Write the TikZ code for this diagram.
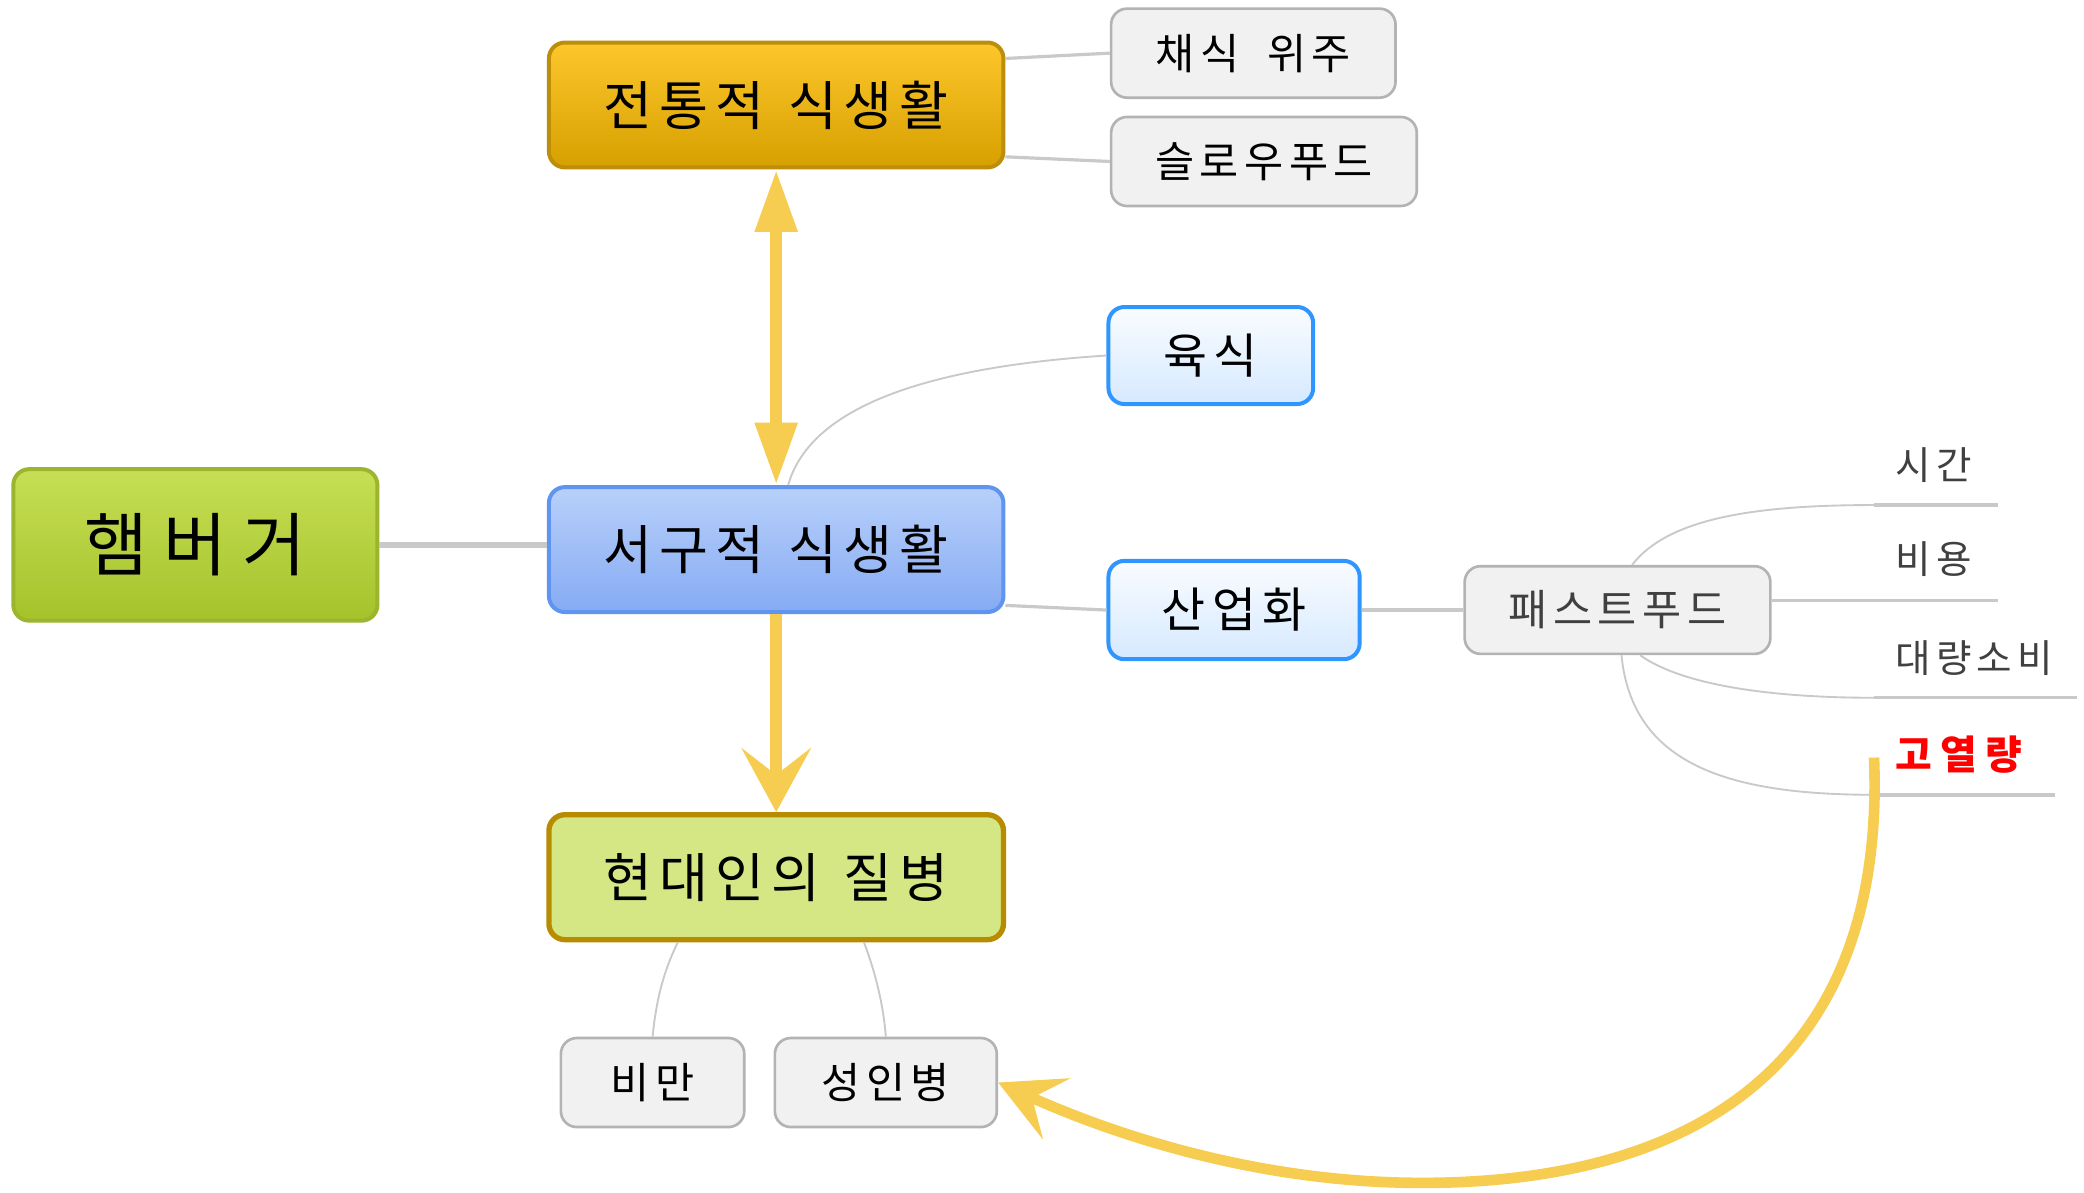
\documentclass[tikz,border=0pt]{standalone}
\usepackage{fontspec}
\setmainfont{Noto Sans CJK KR}[LetterSpace=13]
\newfontfamily\hamfont{Noto Sans CJK KR}[LetterSpace=22]
\usetikzlibrary{arrows.meta,shadings}
\definecolor{hbTop}{HTML}{C6DF55}
\definecolor{hbBot}{HTML}{A5C22A}
\definecolor{hbDraw}{HTML}{9CB52E}
\definecolor{trTop}{HTML}{FDC72C}
\definecolor{trBot}{HTML}{D7A000}
\definecolor{trDraw}{HTML}{BC8E0A}
\definecolor{wsTop}{HTML}{B8D0FA}
\definecolor{wsBot}{HTML}{86ABF4}
\definecolor{wsDraw}{HTML}{5F94EF}
\definecolor{dsFill}{HTML}{D5E684}
\definecolor{dsDraw}{HTML}{B88C00}
\definecolor{gFill}{HTML}{F1F1F1}
\definecolor{gDraw}{HTML}{B3B3B3}
\definecolor{bTop}{HTML}{F9FCFF}
\definecolor{bBot}{HTML}{D6E9FF}
\definecolor{bDraw}{HTML}{2F95FF}
\definecolor{yel}{HTML}{F6CD50}
\definecolor{lineg}{HTML}{C9C9C9}
\definecolor{txtg}{HTML}{404040}
\newcommand{\wsp}{\hspace{0.45em}}
\begin{document}
\begin{tikzpicture}[x=0.5pt,y=-0.5pt,
  box/.style={rounded corners=6pt, inner sep=0pt, align=center, text=black},
  rootbox/.style={box, draw=hbDraw, line width=1.5pt, top color=hbTop, bottom color=hbBot,
    minimum width=137pt, minimum height=57pt, font=\hamfont\fontsize{26}{30}\selectfont},
  mainbox/.style={box, line width=1.5pt, minimum width=171pt, minimum height=47pt,
    font=\fontsize{20}{24}\selectfont},
  graybox/.style={box, draw=gDraw, fill=gFill, line width=1pt, minimum height=33.5pt,
    font=\fontsize{16}{20}\selectfont},
  bluebox/.style={box, draw=bDraw, line width=1.5pt, top color=bTop, bottom color=bBot,
    font=\fontsize{18}{22}\selectfont},
  lbl/.style={anchor=west, inner sep=0pt, text=txtg, font=\fontsize{14.5}{18}\selectfont},
  conn/.style={draw=lineg, line width=1.2pt},
  thinc/.style={draw=lineg, line width=0.7pt},
  ul/.style={draw=lineg, line width=1.3pt},
  yarr/.style={draw=yel, line width=4.5pt},
  yarr2/.style={draw=yel, line width=4pt}
]
\useasboundingbox (0,0) rectangle (1568,897);
\fill[white] (0,0) rectangle (1568,897);

% nodes
\node[rootbox] (ham) at (147,410) {햄버거};
\node[mainbox, draw=trDraw, top color=trTop, bottom color=trBot] (trad) at (584,79) {전통적\wsp 식생활};
\node[mainbox, draw=wsDraw, top color=wsTop, bottom color=wsBot] (wst) at (584,413.5) {서구적\wsp 식생활};
\node[mainbox, draw=dsDraw, fill=dsFill, line width=2pt] (dis) at (584,660) {현대인의\wsp 질병};
\node[graybox, minimum width=107pt] (veg) at (943,40) {채식\hspace{0.3em} 위주};
\node[graybox, minimum width=115pt] (slow) at (951,121.5) {슬로우푸드};
\node[bluebox, minimum width=77pt, minimum height=36.5pt] (meat) at (911,267.5) {육식};
\node[bluebox, minimum width=94.5pt, minimum height=37pt] (ind) at (928.5,459) {산업화};
\node[graybox, minimum width=115pt, minimum height=33pt, text=txtg] (ff) at (1217,459) {패스트푸드};
\node[graybox, minimum width=69pt] (obe) at (491,814.5) {비만};
\node[graybox, minimum width=83.5pt] (adult) at (666.5,814.5) {성인병};
\node[lbl] (time) at (1426,350) {시간};
\node[lbl] (cost) at (1426,421) {비용};
\node[lbl] (mass) at (1426,495) {대량소비};
\node[lbl, text=red, font=\fontsize{15}{18}\selectfont\bfseries\addfontfeature{LetterSpace=20}] (cal) at (1426,568) {고열량};

% gray connectors
\draw[conn, line width=2.5pt] (ham.east) -- (wst.west|-ham.east);
\draw[conn] ([yshift=17.5pt]trad.east) -- (veg.west);
\draw[conn] ([yshift=-19.5pt]trad.east) -- (slow.west);
\draw[thinc] ([xshift=4.5pt]wst.north) .. controls (610,305) and (700,276) .. (meat.west);
\draw[conn] ([yshift=-21pt]wst.east) -- (ind.west);
\draw[conn] (ind) -- (ff);
\coordinate (tA) at (1410,380); \coordinate (tB) at (1503,380);
\coordinate (cB) at (1503,452);
\coordinate (mA) at (1410,525); \coordinate (mB) at (1563,525);
\coordinate (kA) at (1410,598); \coordinate (kB) at (1546,598);
\draw[thinc] ([xshift=5.5pt]ff.north) .. controls (1255,390) and (1320,380) .. (tA);
\draw[ul] (tA) -- (tB);
\draw[ul] ([yshift=3.5pt]ff.east) -- (cB);
\draw[thinc] ([xshift=8.5pt]ff.south) .. controls (1265,515) and (1330,525) .. (mA);
\draw[ul] (mA) -- (mB);
\draw[thinc] ([xshift=1.5pt]ff.south) .. controls (1228,575) and (1300,598) .. (kA);
\draw[ul] (kA) -- (kB);
\draw[thinc] ([xshift=-37pt]dis.south) .. controls (497,735) and (493,760) .. (obe.north);
\draw[thinc] ([xshift=33pt]dis.south) .. controls (660,735) and (665,760) .. (adult.north);

% yellow arrows
\draw[yarr, {Triangle[length=23.5pt,width=15pt]}-{Triangle[length=23.5pt,width=15pt]}] (trad.south) -- (wst.north);
\draw[yarr, -{Stealth[length=24pt,width=26pt,inset=10pt]}] (wst.south) -- (dis.north);
\draw[yarr2, -{Stealth[length=24pt,width=25pt,inset=10pt]}] ([xshift=-8pt,yshift=-1pt]cal.west)
  .. controls (1420,820) and (1250,890) .. (1070,890)
  .. controls (940,890) and (830,850) .. (adult.east);
\end{tikzpicture}
\end{document}
